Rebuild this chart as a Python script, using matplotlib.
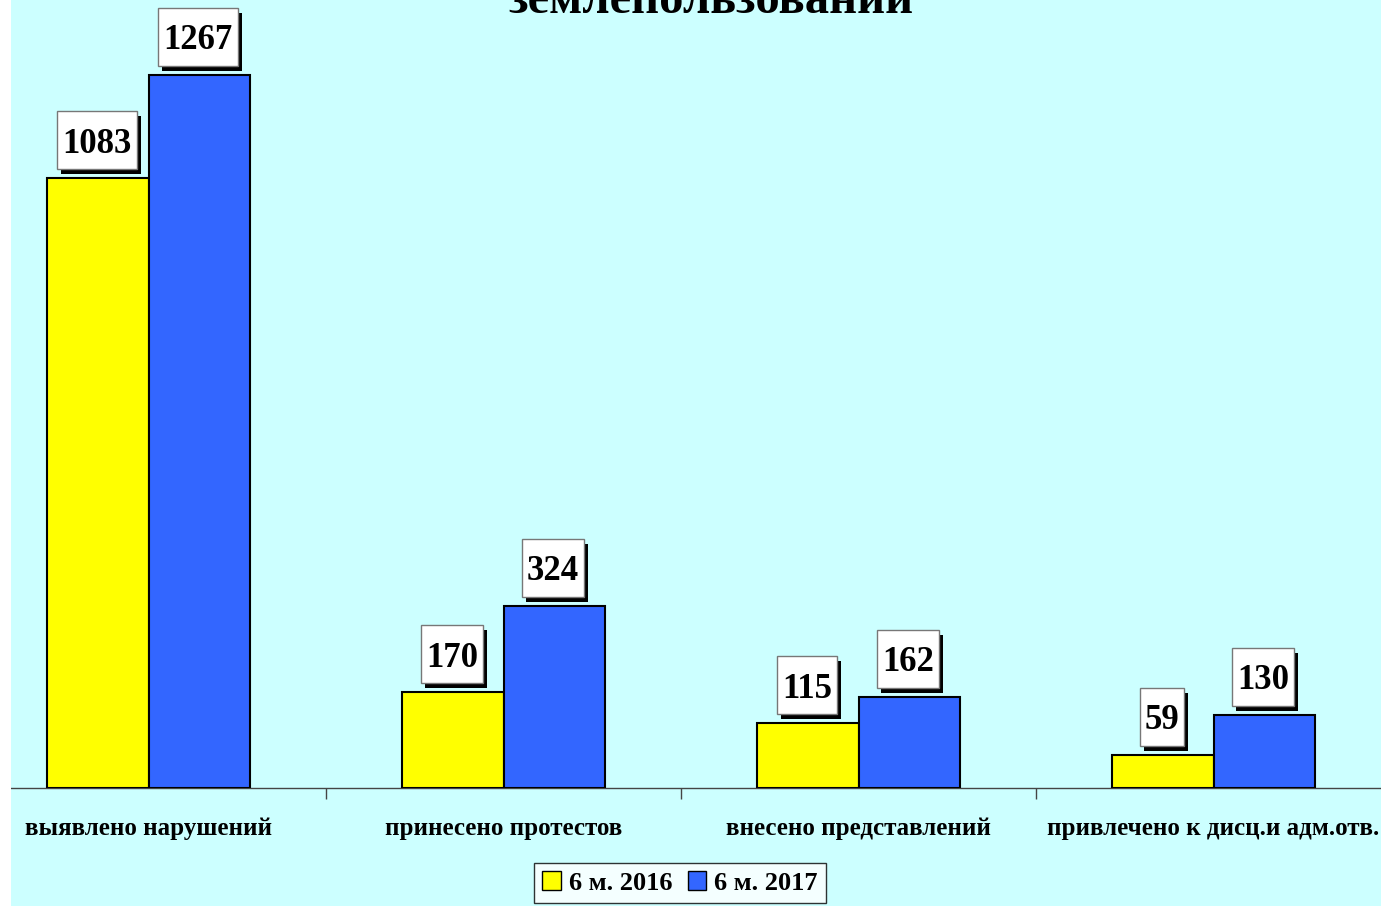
import numpy as np
import matplotlib
matplotlib.use('Agg')
import matplotlib.pyplot as plt
from matplotlib.patches import Rectangle
from matplotlib.transforms import IdentityTransform

categories = ['выявлено нарушений', 'принесено протестов',
              'внесено представлений', 'привлечено к дисц.и адм.отв.']
values_2016 = [1083, 170, 115, 59]
values_2017 = [1267, 324, 162, 130]
series_names = ['6 м. 2016', '6 м. 2017']
title = 'землепользовании'

W, H = 1381, 906
bg = '#CCFFFF'
serif = ['Liberation Serif', 'DejaVu Serif']

fig = plt.figure(figsize=(W / 100, H / 100), dpi=100, facecolor=bg)
# axes box in pixels: x from -29 to 1391, y from 788 (baseline) up to 0
ax = fig.add_axes([-29 / W, (H - 788) / H, 1420 / W, 788 / H])
ax.set_facecolor('none')

x = np.arange(len(categories))
w = 0.285
bars1 = ax.bar(x - w / 2, values_2016, w, color='#FFFF00', edgecolor='black',
               linewidth=1.5, label=series_names[0], zorder=3)
bars2 = ax.bar(x + w / 2, values_2017, w, color='#3366FF', edgecolor='black',
               linewidth=1.5, label=series_names[1], zorder=3)

ax.set_xlim(-0.5, len(categories) - 0.5)
ax.set_ylim(0, 1400)
ax.set_yticks([])
for s in ['top', 'right', 'left']:
    ax.spines[s].set_visible(False)
ax.spines['bottom'].set_color('#444444')
ax.spines['bottom'].set_linewidth(1)
ax.set_xticks(np.arange(len(categories) - 1) + 0.5, minor=True)
ax.set_xticks([])
ax.tick_params(axis='x', which='minor', length=8, color='#444444', width=1,
               labelbottom=False)

for i, c in enumerate(categories):
    ax.text(i, -41 * 1400 / 788, c, ha='center', va='center', fontsize=18,
            fontweight='bold', family=serif)

# value labels
labels = []
for bars, vals in [(bars1, values_2016), (bars2, values_2017)]:
    for b, v in zip(bars, vals):
        t = ax.annotate(str(v), (b.get_x() + b.get_width() / 2, v),
                        xytext=(-1, 34), textcoords='offset pixels',
                        ha='center', va='center', fontsize=25,
                        fontweight='bold', family=serif, zorder=6,
                        annotation_clip=False)
        labels.append(t)

fig.canvas.draw()
r = fig.canvas.get_renderer()
for t in labels:
    bb = t.get_window_extent(r)
    cx = (bb.x0 + bb.x1) / 2
    cy = (bb.y0 + bb.y1) / 2 + 4
    bw = bb.width + 10
    bh = 58
    ax.add_patch(Rectangle((cx - bw / 2 + 4, cy - bh / 2 - 5), bw, bh,
                           facecolor='black', edgecolor='none',
                           transform=IdentityTransform(), zorder=4,
                           clip_on=False))
    ax.add_patch(Rectangle((cx - bw / 2, cy - bh / 2), bw, bh,
                           facecolor='white', edgecolor='#777777',
                           linewidth=1, transform=IdentityTransform(),
                           zorder=5, clip_on=False))

fig.text(711 / W, 1 - 13 / H, title, ha='center', va='baseline', fontsize=35,
         fontweight='bold', family=serif)

leg = fig.legend(loc='center', bbox_to_anchor=(680 / W, 1 - 883 / H),
                 ncol=2, frameon=True, fancybox=False, edgecolor='black',
                 prop={'family': serif, 'weight': 'bold', 'size': 19},
                 handlelength=0.7, handleheight=0.7, handletextpad=0.3,
                 columnspacing=0.6, borderpad=0.3, borderaxespad=0)
leg.get_frame().set_linewidth(1)
for h in leg.legend_handles:
    h.set_linewidth(1)

# white strip on the left edge
fig.patches.append(Rectangle((0, 0), 11 / W, 1, transform=fig.transFigure,
                             facecolor='white', edgecolor='none', zorder=20))

fig.savefig('out.png', dpi=100, facecolor=fig.get_facecolor())
